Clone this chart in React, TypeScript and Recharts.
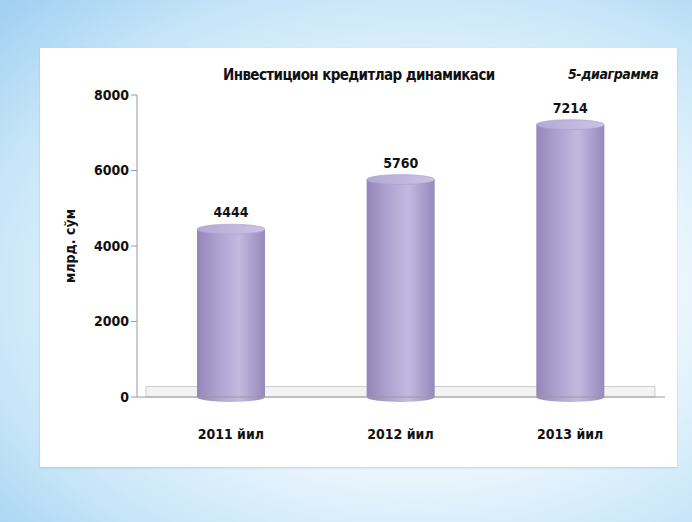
import { BarChart, Bar, XAxis, YAxis, LabelList, ReferenceArea } from 'recharts';

const years = ['2011 йил', '2012 йил', '2013 йил'];
const credits = [4444, 5760, 7214];
const yTicks = [0, 2000, 4000, 6000, 8000];

const data = years.map((name, i) => ({ name, value: credits[i] }));

const FONT = '"Liberation Sans Narrow", "DejaVu Sans Condensed", "Open Sans", sans-serif';

// cylinder-ish bar: shaded body plus elliptical cap
const Cylinder = (props: any) => {
  const { x, y, width, height } = props;
  if (!height) return null;
  const ry = 5;
  const cx = x + width / 2;
  return (
    <g>
      <path
        d={`M${x},${y} L${x},${y + height} A${width / 2},${ry} 0 0 0 ${x + width},${y + height} L${x + width},${y} Z`}
        fill="url(#cylBody)"
      />
      <ellipse cx={cx} cy={y} rx={width / 2} ry={ry} fill="url(#cylTop)" stroke="#a79cc8" strokeWidth={0.6} />
    </g>
  );
};

export default function App() {
  return (
    <div
      style={{
        position: 'absolute', left: 0, top: 0, width: 692, height: 522,
        background: 'radial-gradient(ellipse at 60% 55%, #ffffff 0%, #eaf6fd 45%, #c6e5f8 75%, #9fcff2 100%)',
      }}
    >
      <div
        style={{
          position: 'absolute', left: 40, top: 48, width: 637, height: 419,
          background: '#ffffff', boxShadow: '0 1px 2px rgba(120,150,180,0.35)',
        }}
      >
        <div style={{
          position: 'absolute', left: 183, top: 18, fontFamily: FONT, fontWeight: 700,
          fontSize: 15, color: '#111', letterSpacing: -0.6, whiteSpace: 'nowrap',
        }}>
          Инвестицион кредитлар динамикаси
        </div>
        <div style={{
          position: 'absolute', left: 528, top: 18, fontFamily: FONT, fontWeight: 700,
          fontStyle: 'italic', fontSize: 14, color: '#111', letterSpacing: -0.4, whiteSpace: 'nowrap',
        }}>
          5-диаграмма
        </div>
        <BarChart width={637} height={419} data={data} margin={{ top: 47, right: 12, left: 22, bottom: 0 }}>
          <defs>
            <linearGradient id="cylBody" x1="0" y1="0" x2="1" y2="0">
              <stop offset="0%" stopColor="#9486b8" />
              <stop offset="35%" stopColor="#b1a6d3" />
              <stop offset="62%" stopColor="#c2b9e0" />
              <stop offset="100%" stopColor="#9689bb" />
            </linearGradient>
            <linearGradient id="cylTop" x1="0" y1="0" x2="1" y2="0">
              <stop offset="0%" stopColor="#b3a9d4" />
              <stop offset="100%" stopColor="#cbc3e6" />
            </linearGradient>
          </defs>
          <ReferenceArea y1={0} y2={280} fill="#f3f3f3" fillOpacity={1} stroke="#cccccc" strokeWidth={1} />
          <XAxis
            dataKey="name"
            height={70}
            padding={{ left: 9, right: 10 }}
            axisLine={{ stroke: '#9a9a9a' }}
            tickLine={false}
            tickMargin={26}
            tick={{ fontFamily: FONT, fontWeight: 700, fontSize: 14, fill: '#111' }}
          />
          <YAxis
            width={75}
            domain={[0, 8000]}
            ticks={yTicks}
            axisLine={{ stroke: '#9a9a9a' }}
            tickLine={{ stroke: '#9a9a9a' }}
            tickSize={6}
            tick={{ fontFamily: FONT, fontWeight: 700, fontSize: 14, fill: '#111' }}
            label={{
              value: 'млрд. сўм', angle: -90, position: 'insideLeft', offset: 8,
              style: { fontFamily: FONT, fontWeight: 700, fontSize: 14, fill: '#111', textAnchor: 'middle' },
            }}
          />
          <Bar dataKey="value" barSize={68} shape={<Cylinder />} isAnimationActive={false}>
            <LabelList
              dataKey="value"
              position="top"
              offset={12}
              style={{ fontFamily: FONT, fontWeight: 700, fontSize: 14, fill: '#111' }}
            />
          </Bar>
        </BarChart>
      </div>
    </div>
  );
}
